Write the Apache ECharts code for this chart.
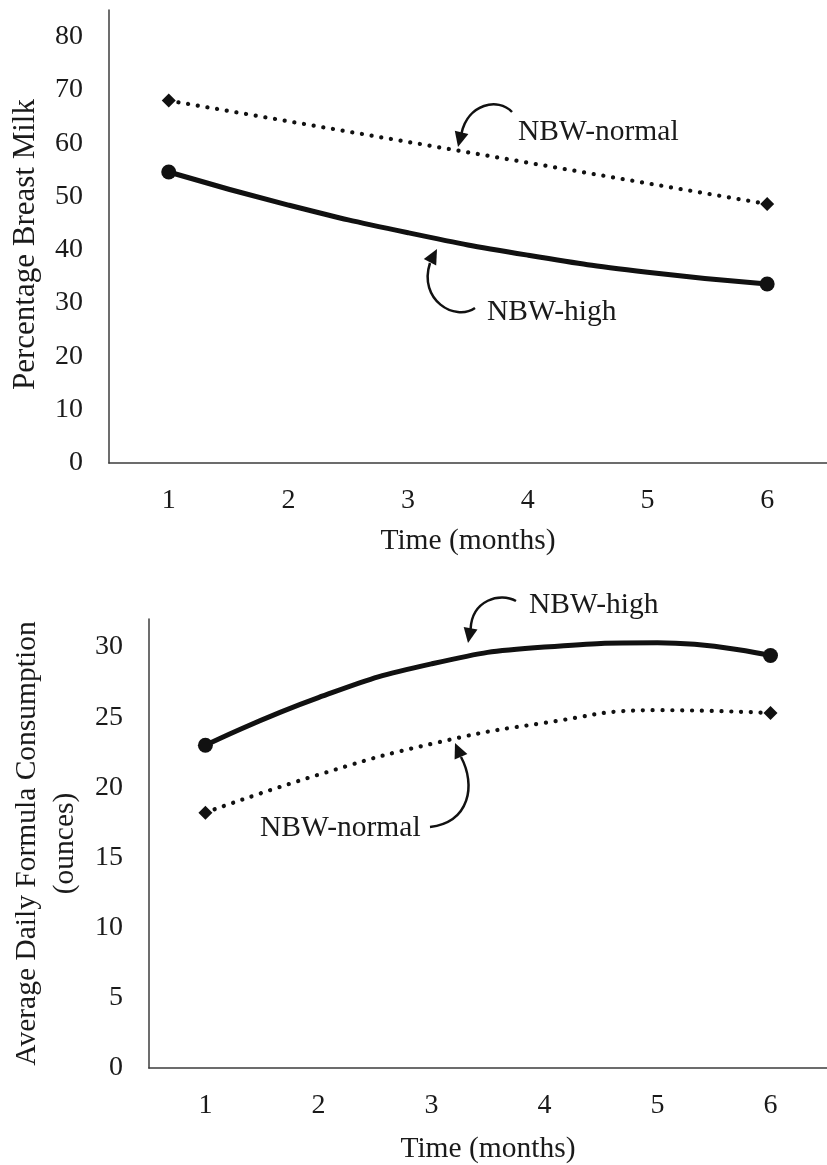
<!DOCTYPE html>
<html><head><meta charset="utf-8">
<script src="https://cdn.jsdelivr.net/npm/echarts@6/dist/echarts.min.js"></script>
<style>html,body{margin:0;padding:0;background:#fff}#c{width:827px;height:1165px}</style>
</head><body><div id="c"></div>
<script>
// ---- data ----
const months = ['1', '2', '3', '4', '5', '6'];
const milkHigh = [54.6, 48.4, 43.2, 39.0, 35.8, 33.6];
const milkNormal = [68.0, null, null, null, null, 48.6];
const formulaHigh = [23.0, 26.4, 28.8, 30.0, 30.3, 29.4];
const formulaNormal = [18.2, 20.9, 23.1, 24.6, 25.5, 25.3];
const milkAxis = { min: 0, max: 85, interval: 10 };
const formulaAxis = { min: 0, max: 32, interval: 5 };
const xTitle = 'Time (months)';
const milkTitle = 'Percentage Breast Milk';
const formulaTitle = 'Average Daily Formula Consumption\n(ounces)';

const FONT = '"Liberation Serif", "Times New Roman", serif';
const INK = '#1a1a1a';
const AXIS = '#3c3c3c';

function endMarks(arr, symbol) {
  return arr.map((v, i) => v == null ? '-' : ({
    value: v,
    symbol: (i === 0 || i === arr.length - 1) ? symbol : 'none'
  }));
}

function xAx(grid, gap) {
  return {
    type: 'category', gridIndex: grid, data: months, boundaryGap: true,
    axisLine: { lineStyle: { color: AXIS, width: 1.5 } },
    axisTick: { show: false },
    axisLabel: { fontFamily: FONT, fontSize: 28, color: INK, margin: 24 },
    name: xTitle, nameLocation: 'middle', nameGap: gap,
    nameTextStyle: { fontFamily: FONT, fontSize: 29.5, color: INK }
  };
}
function yAx(grid, ax, title, gap, fs, lh, pad) {
  return {
    type: 'value', gridIndex: grid, min: ax.min, max: ax.max, interval: ax.interval,
    axisLine: { show: true, lineStyle: { color: AXIS, width: 1.5 } },
    axisTick: { show: false },
    splitLine: { show: false },
    axisLabel: { fontFamily: FONT, fontSize: 28, color: INK, margin: 26, showMaxLabel: false },
    name: title, nameLocation: 'middle', nameGap: gap, nameRotate: 90,
    nameTextStyle: { fontFamily: FONT, fontSize: fs, color: INK, lineHeight: lh, align: 'center', padding: pad }
  };
}

const solid = { color: '#111', width: 5 };
const dotted = { color: '#111', width: 4.2, type: [0.1, 9.7], cap: 'round' };

function arrow(curve, head) {
  return [
    { type: 'bezierCurve', shape: curve, style: { stroke: '#111', lineWidth: 2.5, fill: null }, z: 10 },
    { type: 'polygon', shape: { points: head }, style: { fill: '#111' }, z: 10 }
  ];
}
function label(text, x, y) {
  return { type: 'text', x: x, y: y, z: 10,
    style: { text: text, font: '29.5px ' + FONT, fill: INK, align: 'left', verticalAlign: 'middle' } };
}

const chart = echarts.init(document.getElementById('c'), null, { renderer: 'canvas' });
chart.setOption({
  backgroundColor: '#fff',
  animation: false,
  grid: [
    { left: 106, right: -10, top: 10, bottom: 702 },
    { left: 139, right: -8, top: 619, bottom: 94 }
  ],
  xAxis: [xAx(0, 63), xAx(1, 66)],
  yAxis: [
    yAx(0, milkAxis, milkTitle, 60, 31, 36, [0, 16, 0, 0]),
    yAx(1, formulaAxis, formulaTitle, 52, 29.5, 38, 0)
  ],
  series: [
    { type: 'line', xAxisIndex: 0, yAxisIndex: 0, data: endMarks(milkNormal, 'diamond'), connectNulls: true,
      symbolSize: 14, itemStyle: { color: '#111' }, lineStyle: dotted },
    { type: 'line', xAxisIndex: 0, yAxisIndex: 0, data: endMarks(milkHigh, 'circle'), smooth: true,
      symbolSize: 15, itemStyle: { color: '#111' }, lineStyle: solid },
    { type: 'line', xAxisIndex: 1, yAxisIndex: 1, data: endMarks(formulaNormal, 'diamond'), smooth: true,
      symbolSize: 14, itemStyle: { color: '#111' }, lineStyle: dotted },
    { type: 'line', xAxisIndex: 1, yAxisIndex: 1, data: endMarks(formulaHigh, 'circle'), smooth: true,
      symbolSize: 15, itemStyle: { color: '#111' }, lineStyle: solid }
  ],
  graphic: [].concat(
    arrow({ x1: 512, y1: 112, cpx1: 498, cpy1: 97, cpx2: 468, cpy2: 104, x2: 461.6, y2: 133 },
          [[458, 147], [468.4, 134.1], [454.8, 130.7]]),
    label('NBW-normal', 518, 132),
    arrow({ x1: 475, y1: 308, cpx1: 455, cpy1: 322, cpx2: 418, cpy2: 300, x2: 430, y2: 263 },
          [[437, 249], [436.2, 265.5], [423.8, 259.1]]),
    label('NBW-high', 487, 312),
    arrow({ x1: 516, y1: 601, cpx1: 500, cpy1: 592, cpx2: 472, cpy2: 600, x2: 470.6, y2: 629 },
          [[468, 643], [477.5, 629.4], [463.7, 627]]),
    label('NBW-high', 529, 605),
    arrow({ x1: 430, y1: 827, cpx1: 470, cpy1: 822, cpx2: 476, cpy2: 785, x2: 461, y2: 757 },
          [[455, 743], [467.4, 754], [454.6, 759.6]]),
    label('NBW-normal', 260, 828)
  )
});
</script>
</body></html>
